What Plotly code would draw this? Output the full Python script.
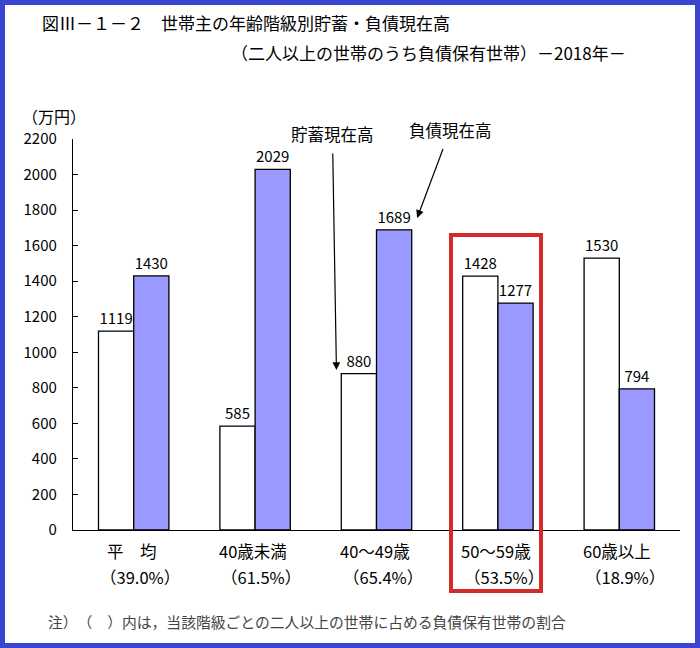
import plotly.graph_objects as go

categories = ["平　均", "40歳未満", "40～49歳", "50～59歳", "60歳以上"]
shares = ["（39.0%）", "（61.5%）", "（65.4%）", "（53.5%）", "（18.9%）"]
savings = [1119, 585, 880, 1428, 1530]
debts = [1430, 2029, 1689, 1277, 794]
y_ticks = list(range(0, 2201, 200))

FONT = "Noto Sans CJK JP"
W, H = 700, 648
L, R, T, B = 73, 20, 139, 118
pw, ph = W - L - R, H - T - B

def px(x):
    return (x - L) / pw

def py(y):
    return (H - B - y) / ph

fig = go.Figure()
fig.add_trace(go.Bar(
    x=categories, y=savings, name="貯蓄現在高",
    marker=dict(color="white", line=dict(color="black", width=1.3)),
    text=[str(v) for v in savings], textposition="outside",
    textfont=dict(family=FONT, size=15, color="black"), cliponaxis=False,
))
fig.add_trace(go.Bar(
    x=categories, y=debts, name="負債現在高",
    marker=dict(color="#9999ff", line=dict(color="black", width=1.3)),
    text=[str(v) for v in debts], textposition="outside",
    textfont=dict(family=FONT, size=15, color="black"), cliponaxis=False,
))

annotations = []
for i, (c, s) in enumerate(zip(categories, shares)):
    annotations.append(dict(x=c, y=py(551), xref="x", yref="paper", text=c,
                            showarrow=False, font=dict(family=FONT, size=16.5, color="black"),
                            xanchor="center", yanchor="middle", xshift=-2))
    annotations.append(dict(x=c, y=py(577), xref="x", yref="paper", text=s,
                            showarrow=False, font=dict(family=FONT, size=16.5, color="black"),
                            xanchor="center", yanchor="middle", xshift=6))

# titles and notes
annotations += [
    dict(x=px(40), y=py(22), xref="paper", yref="paper", text="図Ⅲ－１－２　世帯主の年齢階級別貯蓄・負債現在高",
         showarrow=False, xanchor="left", yanchor="middle", font=dict(family=FONT, size=17, color="black")),
    dict(x=px(229), y=py(52), xref="paper", yref="paper", text="（二人以上の世帯のうち負債保有世帯）－2018年－",
         showarrow=False, xanchor="left", yanchor="middle", font=dict(family=FONT, size=17, color="black")),
    dict(x=px(20), y=py(116), xref="paper", yref="paper", text="（万円）",
         showarrow=False, xanchor="left", yanchor="middle", font=dict(family=FONT, size=16, color="black")),
    dict(x=px(46), y=py(621), xref="paper", yref="paper",
         text="注）　（　）内は，当該階級ごとの二人以上の世帯に占める負債保有世帯の割合",
         showarrow=False, xanchor="left", yanchor="middle", font=dict(family=FONT, size=14.8, color="#444")),
    # pointer labels with arrows
    dict(x=1.67, y=900, xref="x", yref="y", text="貯蓄現在高", showarrow=True,
         ax=-4, ay=-236, arrowhead=2, arrowsize=1.3,
         arrowwidth=1.2, arrowcolor="black", startstandoff=6,
         font=dict(family=FONT, size=16.5, color="black")),
    dict(x=2.335, y=1756, xref="x", yref="y", text="負債現在高", showarrow=True,
         ax=33, ay=-88, arrowhead=2, arrowsize=1.3,
         arrowwidth=1.2, arrowcolor="black", startstandoff=6,
         font=dict(family=FONT, size=16.5, color="black")),
]

shapes = [
    # red highlight box
    dict(type="rect", xref="paper", yref="paper", x0=px(451), x1=px(541), y0=py(591), y1=py(235),
         line=dict(color="#d42a2a", width=4), fillcolor="rgba(0,0,0,0)", layer="above"),
    # page frame
    dict(type="rect", xref="paper", yref="paper", x0=px(0), x1=px(W), y0=py(H), y1=py(0),
         line=dict(color="#3a46cf", width=10), fillcolor="rgba(0,0,0,0)", layer="above"),
]

fig.update_layout(
    width=W, height=H,
    margin=dict(l=L, r=R, t=T, b=B),
    paper_bgcolor="white", plot_bgcolor="white",
    barmode="group", bargap=0.42, bargroupgap=0,
    showlegend=False,
    font=dict(family=FONT, size=14, color="black"),
    xaxis=dict(showticklabels=False, ticks="", showline=True, linecolor="black", linewidth=1.3,
               showgrid=False, zeroline=False),
    yaxis=dict(range=[0, 2200], tickvals=y_ticks, ticktext=[str(v) for v in y_ticks],
               showline=True, linecolor="black", linewidth=1.3, ticks="inside", ticklen=5,
               tickcolor="black", tickwidth=1.3, showgrid=False, zeroline=False,
               tickfont=dict(family=FONT, size=15, color="black"), ticklabelstandoff=12),
    annotations=annotations, shapes=shapes,
)

fig.write_html("out.html", config={"displayModeBar": False},
               post_script="document.body.style.margin='0';document.body.style.overflow='hidden';")
